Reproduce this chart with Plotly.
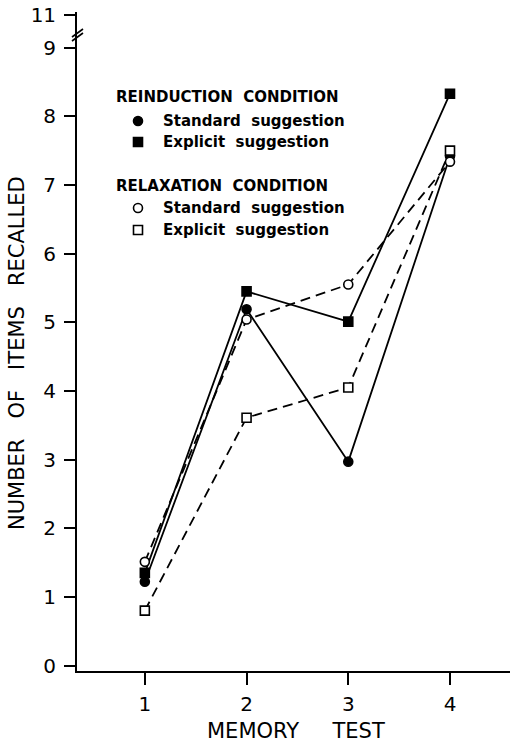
import plotly.graph_objects as go

tests = [1, 2, 3, 4]
reind_standard = [1.22, 5.19, 2.97, 7.42]
reind_explicit = [1.35, 5.45, 5.01, 8.33]
relax_standard = [1.51, 5.04, 5.55, 7.34]
relax_explicit = [0.80, 3.61, 4.05, 7.50]

y_tickvals = [0, 1, 2, 3, 4, 5, 6, 7, 8, 9, 9.47]
y_ticktext = ["0", "1", "2", "3", "4", "5", "6", "7", "8", "9", "11"]
x_ticktext = ["1", "2", "3", "4"]

FONT = "DejaVu Sans"
NB = "\u00a0"
W, H = 510, 744
ML, MR, MT, MB = 77, 0, 12, 73
PW, PH = W - ML - MR, H - MT - MB


def px(x):
    return (x - ML) / PW


def py(y):
    return (H - MB - y) / PH


fig = go.Figure()

series = [
    (reind_standard, "circle", "solid", "black"),
    (reind_explicit, "square", "solid", "black"),
    (relax_standard, "circle", "10px,6px", "white"),
    (relax_explicit, "square", "10px,6px", "white"),
]
for vals, sym, dash, fill in series:
    fig.add_trace(go.Scatter(
        x=tests, y=vals, mode="lines+markers", showlegend=False,
        line=dict(color="black", width=1.8, dash=dash),
        marker=dict(symbol=sym, size=9, color=fill, line=dict(color="black", width=1.6)),
    ))

# legend drawn as annotations + shapes
legend_rows = [
    ("title", "REINDUCTION" + NB * 2 + "CONDITION", None, None, 97),
    ("item", "Standard" + NB * 2 + "suggestion", "circle", "black", 121),
    ("item", "Explicit" + NB * 2 + "suggestion", "square", "black", 142),
    ("title", "RELAXATION" + NB * 2 + "CONDITION", None, None, 186),
    ("item", "Standard" + NB * 2 + "suggestion", "circle", "white", 208),
    ("item", "Explicit" + NB * 2 + "suggestion", "square", "white", 230),
]
for kind, text, sym, fill, ypix in legend_rows:
    xl = 114 if kind == "title" else 161
    fig.add_annotation(x=px(xl), y=py(ypix), xref="paper", yref="paper", text=text,
                       showarrow=False, xanchor="left", yanchor="middle",
                       font=dict(family=FONT, size=15, color="black", weight="bold"))
    if sym:
        r = 4.5
        fig.add_shape(type="circle" if sym == "circle" else "rect", xref="paper", yref="paper",
                      x0=px(138 - r), x1=px(138 + r), y0=py(ypix + r), y1=py(ypix - r),
                      fillcolor=fill, line=dict(color="black", width=1.6))

# axis break marks
for off in (0, 4):
    fig.add_shape(type="line", xref="paper", yref="paper",
                  x0=px(72), x1=px(83), y0=py(41 - off), y1=py(33 - off),
                  line=dict(color="black", width=1.6))

# axis titles
fig.add_annotation(x=px(296), y=py(731), xref="paper", yref="paper",
                   xanchor="center", yanchor="middle",
                   text="MEMORY" + NB * 5 + "TEST", showarrow=False,
                   font=dict(family=FONT, size=21, color="black"))
fig.add_annotation(x=px(17), y=py(353), xref="paper", yref="paper",
                   xanchor="center", yanchor="middle",
                   text="NUMBER" + NB * 3 + "OF" + NB * 3 + "ITEMS" + NB * 3 + "RECALLED",
                   textangle=-90, showarrow=False,
                   font=dict(family=FONT, size=21, color="black"))

fig.update_layout(
    width=W, height=H,
    margin=dict(l=ML, r=MR, t=MT, b=MB),
    paper_bgcolor="white", plot_bgcolor="white",
    font=dict(family=FONT, color="black", size=20),
    showlegend=False,
    xaxis=dict(range=[0.333, 4.59], tickvals=tests, ticktext=x_ticktext,
               showgrid=False, zeroline=False, showline=True, linecolor="black", linewidth=1.8,
               ticks="outside", ticklen=12, tickwidth=1.8, tickcolor="black",
               tickfont=dict(size=20), ticklabelstandoff=2, automargin=False,
               ticklabeloverflow="allow"),
    yaxis=dict(range=[-0.08, 9.52], tickvals=y_tickvals, ticktext=y_ticktext,
               showgrid=False, zeroline=False, showline=True, linecolor="black", linewidth=1.8,
               ticks="outside", ticklen=11, tickwidth=1.8, tickcolor="black",
               tickfont=dict(size=20), ticklabelstandoff=4, automargin=False,
               ticklabeloverflow="allow"),
)

fig.write_html("out.html", config={"displayModeBar": False},
               post_script="document.body.style.margin='0';document.body.style.overflow='hidden';")
